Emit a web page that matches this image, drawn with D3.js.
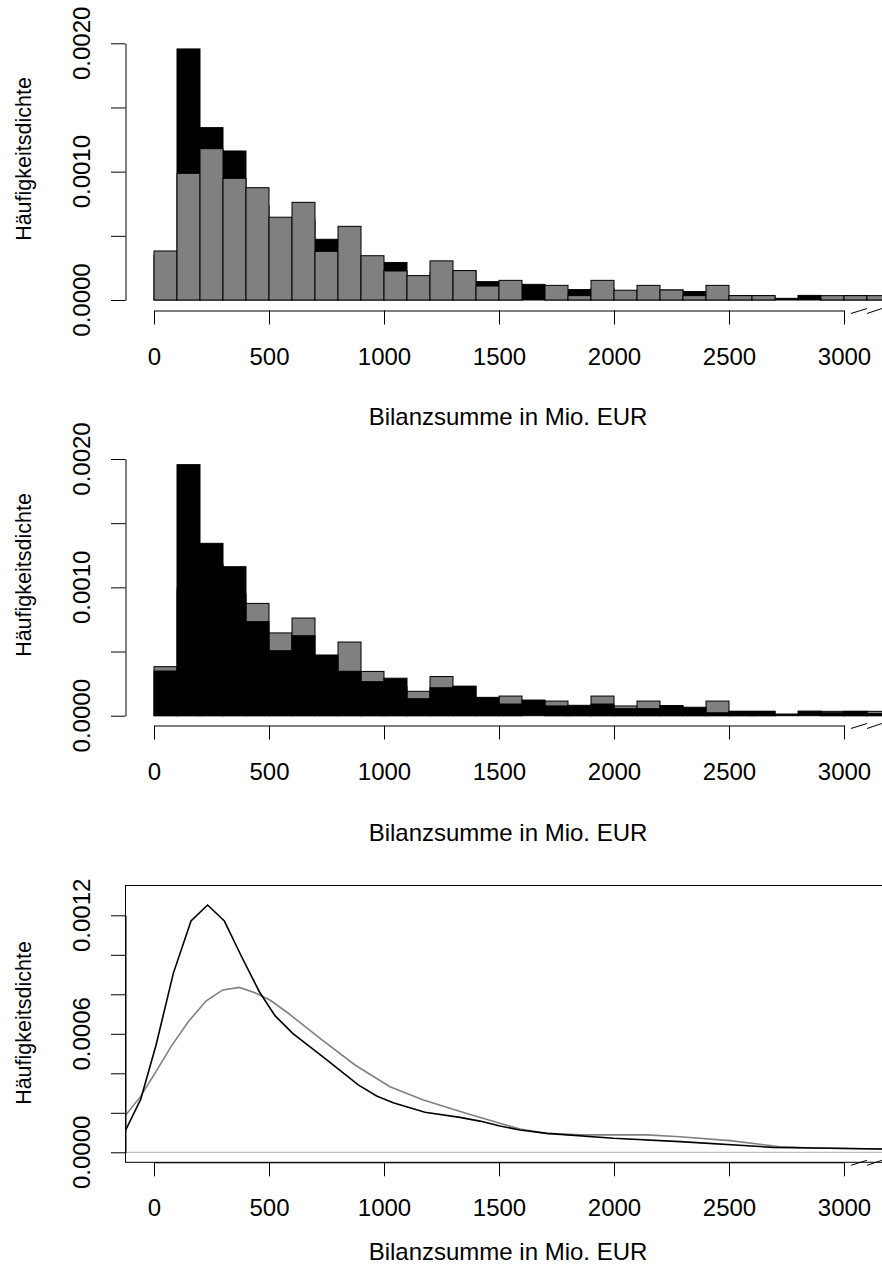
<!DOCTYPE html>
<html lang="de">
<head>
<meta charset="utf-8">
<script src="https://d3js.org/d3.v7.min.js"></script>
<style>
  body { margin: 0; background: #fff; }
  text { font-family: "Liberation Sans", Arial, Helvetica, sans-serif; fill: #000; }
</style>
</head>
<body>
<script>
// bin starts (width 100, Mio. EUR)
const bins = [0, 100, 200, 300, 400, 500, 600, 700, 800, 900, 1000, 1100, 1200, 1300, 1400, 1500,
              1600, 1700, 1800, 1900, 2000, 2100, 2200, 2300, 2400, 2500, 2600, 2700, 2800, 2900, 3000, 3100];

// density of the light (gray) group
const grayHist = [0.000382, 0.000987, 0.001179, 0.000948, 0.000875, 0.000645, 0.000761, 0.000379,
                  0.000574, 0.000345, 0.000226, 0.000190, 0.000305, 0.000229, 0.000109, 0.000153,
                  0, 0.000114, 0.000034, 0.000153, 0.000076, 0.000114, 0.000078, 0.000034,
                  0.000114, 0.000034, 0.000034, 0, 0, 0.000034, 0.000034, 0.000034];

// density of the dark (black) group
const blackHist = [0.000348, 0.001956, 0.001343, 0.001161, 0.000733, 0.000506, 0.000623, 0.000473,
                   0.000346, 0.000265, 0.000292, 0.000132, 0.000218, 0.000229, 0.000143, 0.000091,
                   0.000122, 0.000076, 0.000081, 0.000091, 0.000055, 0.000055, 0.000078, 0.000066,
                   0.000023, 0.000034, 0.000034, 0.000013, 0.000036, 0.000023, 0.000034, 0.000016];

// kernel density estimates (x in Mio. EUR)
const blackDensX = [-123, -58, 9, 84, 161, 233, 306, 381, 458, 526, 603, 743, 888, 968, 1040, 1178,
                    1330, 1417, 1504, 1591, 1707, 1997, 2287, 2691, 2865, 3165, 3300];
const blackDensY = [0.000113, 0.000268, 0.000543, 0.000906, 0.001171, 0.001252, 0.001171, 0.000990,
                    0.000813, 0.000692, 0.000602, 0.000476, 0.000341, 0.000285, 0.000251, 0.000203,
                    0.000177, 0.000158, 0.000133, 0.000113, 0.000096, 0.000071, 0.000054, 0.000025,
                    0.000022, 0.000017, 0.000015];

const grayDensX = [-123, -61, 4, 74, 149, 226, 299, 371, 439, 504, 584, 722, 874, 1026, 1171, 1360,
                   1504, 1591, 1707, 1852, 2142, 2287, 2504, 2722, 2865, 3165, 3300];
const grayDensY = [0.000189, 0.000278, 0.000400, 0.000535, 0.000661, 0.000766, 0.000822, 0.000835,
                   0.000808, 0.000771, 0.000704, 0.000577, 0.000442, 0.000332, 0.000265, 0.000197,
                   0.000147, 0.000118, 0.000096, 0.000088, 0.000088, 0.000079, 0.000059, 0.000028,
                   0.000022, 0.000017, 0.000015];

const xTicks = [0, 500, 1000, 1500, 2000, 2500, 3000];
const histTicks = [0, 0.0005, 0.001, 0.0015, 0.002];
const histLabels = [0, 0.001, 0.002];
const densTicks = [0, 0.0002, 0.0004, 0.0006, 0.0008, 0.001, 0.0012];
const densLabels = [0, 0.0006, 0.0012];

const xTitle = "Bilanzsumme in Mio. EUR";
const yTitle = "Häufigkeitsdichte";

const W = 882, H = 1279;
const FS = 24;         // tick labels and x title
const FS_Y = 21.5;     // y title
const AXL = 125.5;     // y axis position
const GRAY = "#808080";

const svg = d3.select("body").append("svg")
  .attr("width", W).attr("height", H);

const x = d3.scaleLinear().domain([0, 3000]).range([154, 844]);

function xAxis(axisY, labelY) {
  const g = svg.append("g")
    .attr("transform", "translate(0," + axisY + ")")
    .call(d3.axisBottom(x).tickValues(xTicks).tickSize(14).tickSizeOuter(0).tickFormat(d3.format("d")));
  g.select(".domain").attr("stroke", "#000");
  g.selectAll(".tick line").attr("stroke", "#000");
  g.selectAll(".tick text")
    .attr("y", 54).attr("dy", 0)
    .style("font-size", FS + "px")
    .attr("font-family", null);

  // axis break marks "//"
  [[3030, 3100], [3100, 3165]].forEach(p => {
    svg.append("line")
      .attr("x1", x(p[0])).attr("y1", axisY + 3)
      .attr("x2", x(p[1])).attr("y2", axisY - 2)
      .attr("stroke", "#000").attr("stroke-width", 1);
  });

  svg.append("text")
    .attr("x", 508).attr("y", labelY)
    .attr("text-anchor", "middle")
    .style("font-size", FS + "px")
    .text(xTitle);
}

function yAxis(y, ticks, labels, fmt, titleY) {
  const g = svg.append("g")
    .attr("transform", "translate(" + AXL + ",0)")
    .call(d3.axisLeft(y).tickValues(ticks).tickSize(14.5).tickSizeOuter(0).tickFormat(""));
  g.select(".domain").attr("stroke", "#000");
  g.selectAll(".tick line").attr("stroke", "#000");

  svg.selectAll(null)
    .data(labels)
    .enter()
    .append("text")
    .attr("transform", d => "translate(90," + y(d) + ") rotate(-90)")
    .attr("text-anchor", "middle")
    .style("font-size", FS + "px")
    .text(d => d3.format(fmt)(d));

  svg.append("text")
    .attr("transform", "translate(31," + titleY + ") rotate(-90)")
    .attr("text-anchor", "middle")
    .style("font-size", FS_Y + "px")
    .text(yTitle);
}

function bars(y, base, values, fill) {
  svg.append("g").selectAll("rect")
    .data(bins)
    .enter()
    .append("rect")
    .attr("x", d => x(d))
    .attr("width", d => x(d + 100) - x(d))
    .attr("y", (d, i) => y(values[i]))
    .attr("height", (d, i) => base - y(values[i]))
    .attr("fill", fill)
    .attr("stroke", "#000")
    .attr("stroke-width", 1);
}

// ---- panel 1: black behind, gray in front
const y1 = d3.scaleLinear().domain([0, 0.002]).range([300, 43.3]);
bars(y1, 300, blackHist, "#000");
bars(y1, 300, grayHist, GRAY);
yAxis(y1, histTicks, histLabels, ".4f", 159);
xAxis(310.5, 425);

// ---- panel 2: gray behind, black in front
const y2 = d3.scaleLinear().domain([0, 0.002]).range([715.7, 459]);
bars(y2, 715.7, grayHist, GRAY);
bars(y2, 715.7, blackHist, "#000");
yAxis(y2, histTicks, histLabels, ".4f", 575);
xAxis(725.5, 841);

// ---- panel 3: kernel densities
const y3 = d3.scaleLinear().domain([0, 0.0012]).range([1152.3, 915.3]);

svg.append("line")
  .attr("x1", AXL).attr("x2", W)
  .attr("y1", y3(0)).attr("y2", y3(0))
  .attr("stroke", "#bebebe").attr("stroke-width", 1.2);

const line = d3.line().x(d => x(d[0])).y(d => y3(d[1]));

svg.append("path")
  .datum(grayDensX.map((v, i) => [v, grayDensY[i]]))
  .attr("d", line)
  .attr("fill", "none").attr("stroke", GRAY).attr("stroke-width", 1.6);

svg.append("path")
  .datum(blackDensX.map((v, i) => [v, blackDensY[i]]))
  .attr("d", line)
  .attr("fill", "none").attr("stroke", "#000").attr("stroke-width", 1.6);

svg.append("rect")
  .attr("x", AXL).attr("y", 885.5)
  .attr("width", 800).attr("height", 1162.3 - 885.5)
  .attr("fill", "none").attr("stroke", "#000").attr("stroke-width", 1);

yAxis(y3, densTicks, densLabels, ".4f", 1023);
xAxis(1162.3, 1260);
</script>
</body>
</html>
